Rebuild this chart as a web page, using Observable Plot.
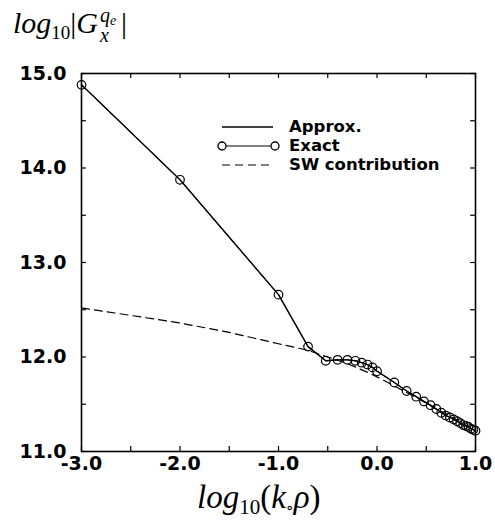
<!DOCTYPE html>
<html>
<head>
<meta charset="utf-8">
<script src="https://cdn.jsdelivr.net/npm/d3@7"></script>
<script src="https://cdn.jsdelivr.net/npm/@observablehq/plot@0.6"></script>
<style>
  html, body { margin: 0; padding: 0; background: #fff; }
  #wrap { position: relative; width: 495px; height: 529px; overflow: hidden; background: #fff; }
  #chart { position: absolute; left: 0; top: 0; }
  .math { position: absolute; font-family: "Liberation Serif", "DejaVu Serif", serif; font-size: 30px; color: #000; white-space: nowrap; line-height: 1; }
  .math i { font-style: italic; }
  .math sub.s { font-size: 19px; vertical-align: -6px; font-style: normal; }
  .stack { display: inline-block; vertical-align: middle; position: relative; width: 22px; height: 30px; margin-left: 1px; }
  .stack .up { position: absolute; left: 1px; top: -6px; font-size: 20px; font-style: italic; }
  .stack .up sub { font-size: 14px; vertical-align: -3px; }
  .stack .dn { position: absolute; left: 1px; top: 14px; font-size: 20px; font-style: italic; }
  #legend { position: absolute; left: 217px; top: 117px; width: 270px; font-family: "DejaVu Sans", sans-serif; font-weight: bold; font-size: 16.5px; color: #000; white-space: nowrap; }
  .row { position: relative; height: 19px; }
  .row svg { position: absolute; left: 0; top: 1px; }
  .row span { position: absolute; left: 72px; top: 0px; line-height: 19px; height: 19px; white-space: nowrap; }
</style>
</head>
<body>
<div id="wrap">
  <div id="chart"></div>
  <div class="math" style="left:13px; top:8px;"><i>log</i><sub class="s">10</sub>|<i>G</i><span class="stack"><span class="up">q<sub>e</sub></span><span class="dn">x</span></span>|</div>
  <div class="math" style="left:197px; top:481px; font-size:33px;"><i>log</i><sub class="s" style="font-size:21px;">10</sub>(<i>k</i><sub class="s" style="font-size:16px;vertical-align:-5px;">∘</sub><i>ρ</i>)</div>
  <div id="legend">
    <div class="row"><svg width="64" height="17"><line x1="5" x2="56" y1="9" y2="9" stroke="#000" stroke-width="1.4"/></svg><span>Approx.</span></div>
    <div class="row"><svg width="64" height="17"><line x1="5" x2="58" y1="9" y2="9" stroke="#000" stroke-width="1.1"/><circle cx="5" cy="9" r="4" fill="#fff" stroke="#000" stroke-width="1.3"/><circle cx="58" cy="9" r="4" fill="#fff" stroke="#000" stroke-width="1.3"/></svg><span>Exact</span></div>
    <div class="row"><svg width="64" height="17"><line x1="5" x2="56" y1="9" y2="9" stroke="#000" stroke-width="1.2" stroke-dasharray="8,5"/></svg><span>SW contribution</span></div>
  </div>
</div>
<script>
// log10(k0 rho) sample positions and values
const exactX = [-3.0, -2.0, -1.0, -0.70, -0.52, -0.40, -0.30, -0.22, -0.155, -0.097, -0.046, 0.0,
                0.176, 0.301, 0.398, 0.477, 0.544, 0.602, 0.653, 0.699, 0.740, 0.778, 0.813, 0.845,
                0.875, 0.903, 0.929, 0.954, 0.978, 1.0];
const exactY = [14.88, 13.875, 12.66, 12.11, 11.96, 11.97, 11.97, 11.96, 11.94, 11.92, 11.89, 11.85,
                11.73, 11.64, 11.58, 11.53, 11.49, 11.45, 11.41, 11.38, 11.36, 11.34, 11.32, 11.30,
                11.28, 11.27, 11.26, 11.24, 11.23, 11.22];
const approxX = exactX;
const approxY = exactY;
const swX = [-3.0, -2.5, -2.0, -1.5, -1.0, -0.7, -0.5, -0.3, -0.1, 0.0, 0.2, 0.4, 0.5, 0.6, 0.7, 0.8, 0.9, 1.0];
const swY = [12.52, 12.44, 12.36, 12.26, 12.14, 12.07, 12.00, 11.93, 11.84, 11.79, 11.68, 11.57, 11.51, 11.45, 11.40, 11.34, 11.28, 11.22];

const xTickLabels = [-3.0, -2.0, -1.0, 0.0, 1.0];
const yTickLabels = [11.0, 12.0, 13.0, 14.0, 15.0];
const xTickMarks = [-3.0, -2.5, -2.0, -1.5, -1.0, -0.5, 0.0, 0.5, 1.0];
const yTickMarks = [11.0, 11.5, 12.0, 12.5, 13.0, 13.5, 14.0, 14.5, 15.0];

const exact = exactX.map((x, i) => ({x, y: exactY[i]}));
const approx = approxX.map((x, i) => ({x, y: approxY[i]}));
const sw = swX.map((x, i) => ({x, y: swY[i]}));

const xDom = [-3, 1], yDom = [11, 15];
const tx = 0.05, ty = 0.052; // tick lengths in data units (~5px)
const fmt = d => d3.format(".1f")(d).replace("\u2212", "-");

const plot = Plot.plot({
  width: 495,
  height: 529,
  marginLeft: 81,
  marginRight: 20,
  marginTop: 73,
  marginBottom: 78,
  x: {domain: xDom},
  y: {domain: yDom},
  style: {fontFamily: "DejaVu Sans", fontWeight: "bold", fontSize: "19px", color: "#000", background: "transparent"},
  marks: [
    Plot.axisX(xTickLabels, {tickSize: 0, tickPadding: 5, tickFormat: fmt, label: null, fontSize: 19, fontWeight: "bold"}),
    Plot.axisY(yTickLabels, {tickSize: 0, tickPadding: 15, tickFormat: fmt, label: null, fontSize: 19, fontWeight: "bold"}),
    Plot.ruleX(xTickMarks, {x: d => d, y1: yDom[0], y2: yDom[0] + ty, stroke: "#000", strokeWidth: 1.2}),
    Plot.ruleX(xTickMarks, {x: d => d, y1: yDom[1], y2: yDom[1] - ty, stroke: "#000", strokeWidth: 1.2}),
    Plot.ruleY(yTickMarks, {y: d => d, x1: xDom[0], x2: xDom[0] + tx, stroke: "#000", strokeWidth: 1.2}),
    Plot.ruleY(yTickMarks, {y: d => d, x1: xDom[1], x2: xDom[1] - tx, stroke: "#000", strokeWidth: 1.2}),
    Plot.frame({stroke: "#000", strokeWidth: 1.6}),
    Plot.line(sw, {x: "x", y: "y", stroke: "#000", strokeWidth: 1.2, strokeDasharray: "8,5"}),
    Plot.line(approx, {x: "x", y: "y", stroke: "#000", strokeWidth: 1.4}),
    Plot.line(exact, {x: "x", y: "y", stroke: "#000", strokeWidth: 1.0}),
    Plot.dot(exact, {x: "x", y: "y", r: 4.3, stroke: "#000", strokeWidth: 1.2, fill: "none"})
  ]
});
document.getElementById("chart").appendChild(plot);
</script>
</body>
</html>
